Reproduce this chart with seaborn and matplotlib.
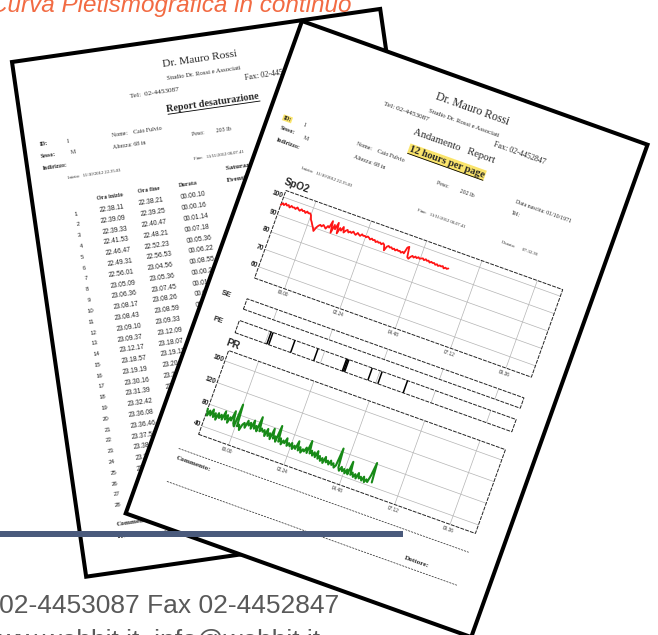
import numpy as np
import pandas as pd
import matplotlib
matplotlib.use("Agg")
import matplotlib.pyplot as plt
from matplotlib import transforms
from matplotlib.patches import Polygon, Rectangle
import seaborn as sns

sns.set_theme(style="white")
plt.rcParams['font.family'] = ['Liberation Sans', 'DejaVu Sans']
SERIF = ['Liberation Serif', 'DejaVu Serif']
SANS = ['Liberation Sans', 'DejaVu Sans']

# --- dati ---
# SpO2 (%) e PR (bpm), un campione ogni 0.062 h dall'inizio registrazione
spo2_values = [
    95.5, 96.8, 96.0, 97.2, 96.3, 96.9, 95.8, 97.0, 96.4, 96.7,
    96.1, 97.3, 96.5, 96.0, 97.1, 96.4, 96.8, 95.9, 97.0, 96.3,
    96.6, 95.8, 93.5, 92.4, 91.0, 89.8, 88.2, 90.5, 91.8, 92.6,
    92.0, 93.1, 92.4, 91.6, 93.4, 92.8, 96.8, 90.4, 95.2, 93.0,
    97.0, 91.2, 94.6, 93.4, 95.8, 92.9, 94.2, 95.0, 93.8, 94.6,
    94.1, 95.2, 94.4, 93.9, 95.3, 94.7, 94.2, 95.4, 94.8, 95.1,
    94.6, 95.3, 94.9, 94.2, 95.0, 94.4, 94.8, 93.9, 94.6, 94.1,
    94.5, 93.8, 94.7, 94.0, 91.2, 93.6, 94.3, 93.7, 94.1, 93.4,
    93.9, 93.2, 94.0, 93.5, 93.8, 93.1, 93.9, 93.3, 96.9, 97.6,
    92.0, 91.4, 92.8, 93.6, 92.9, 93.8, 93.2, 94.0, 93.4, 93.9,
    94.2, 93.5, 94.3, 93.7, 94.1, 93.3, 94.0, 93.6, 93.9, 93.2,
    93.8, 93.1, 93.7, 93.4, 93.9, 92.9, 93.6, 93.2, 93.7,
]
pr_values = [
    72, 60, 70, 62, 74, 61, 69, 58, 71, 63,
    70, 62, 78, 64, 73, 60, 71, 66, 84, 63,
    58, 99, 60, 64, 55, 66, 70, 62, 76, 68,
    74, 64, 80, 66, 72, 63, 90, 65, 71, 66,
    70, 60, 74, 62, 68, 58, 78, 61, 66, 57,
    87, 59, 66, 56, 64, 60, 70, 57, 63, 58,
    65, 55, 62, 57, 72, 56, 63, 54, 61, 58,
    66, 57, 80, 58, 64, 56, 63, 55, 67, 54,
    60, 52, 58, 50, 62, 53, 57, 51, 59, 52,
    56, 49, 54, 86, 52, 47, 55, 48, 53, 46,
    54, 46, 70, 47, 52, 45, 51, 44, 55, 46,
    50, 44, 52, 43, 49, 45, 58, 82, 47,
]
sample_step_h = 0.062
page_start_h = 22.7          # ora di inizio pagina (22:42)
page_span_h = 12.0           # 12 hours per page
pe_events_h = [24.08, 24.16, 25.11, 26.11, 27.35, 27.40, 27.45, 28.46, 28.89, 29.99]
time_ticks_h = [24.0, 26.4, 28.8, 31.2, 33.6]
time_tick_labels = ['00.00', '02.24', '04.48', '07.12', '09.36']
spo2_ticks = [100, 90, 80, 70, 60]
pr_ticks = [160, 120, 80, 40]

# tabella report desaturazione
ora_inizio = ["22.38.11", "22.39.09", "22.39.33", "22.41.53", "22.46.47", "22.49.31", "22.56.01",
              "23.05.09", "23.06.36", "23.08.17", "23.08.43", "23.09.10", "23.09.37", "23.12.17",
              "23.18.57", "23.19.19", "23.30.16", "23.31.39", "23.32.42", "23.36.08", "23.36.46",
              "23.37.51", "23.38.59", "23.39.48", "23.42.24", "23.43.33", "23.45.33", "23.46.22"]
ora_fine = ["22.38.21", "22.39.25", "22.40.47", "22.48.21", "22.52.23", "22.56.53", "23.04.56",
            "23.05.36", "23.07.45", "23.08.26", "23.08.59", "23.09.33", "23.12.09", "23.18.07",
            "23.19.12", "23.20.00", "23.31.39", "23.32.42", "23.36.08", "23.36.46", "23.37.51",
            "23.38.43", "23.39.30", "23.42.02", "23.43.11", "23.45.09", "23.45.52", "23.47.20"]
durata = ["00.00.10", "00.00.16", "00.01.14", "00.07.18", "00.05.36", "00.06.22", "00.08.55",
          "00.00.27", "00.01.09", "00.00.09", "00.00.16", "00.00.23", "00.02.32", "00.05.50",
          "00.00.15", "00.00.41", "00.01.23", "00.01.03", "00.03.26", "00.00.38", "00.01.05",
          "00.00.52", "00.00.31", "00.02.14", "00.00.47", "00.01.36", "00.00.19", "00.00.58"]

spo2_df = pd.DataFrame({'ora': page_start_h + np.arange(len(spo2_values)) * sample_step_h,
                        'spo2': spo2_values})
pr_df = pd.DataFrame({'ora': page_start_h + np.arange(len(pr_values)) * sample_step_h,
                      'pr': pr_values})

# --- figura ---
fig = plt.figure(figsize=(6.58, 6.35), dpi=100)
ax = fig.add_axes([0, 0, 1, 1])
ax.set_xlim(0, 658)
ax.set_ylim(635, 0)
ax.axis('off')


def page_transform(x0, y0, angle):
    return transforms.Affine2D().rotate_deg(angle).translate(x0, y0) + ax.transData


def put(tr, angle, u, v, s, size, ha='left', va='center', family=SERIF, z=3, **kw):
    ax.text(u, v, s, transform=tr, rotation=-angle, rotation_mode='anchor',
            fontsize=size, ha=ha, va=va, family=family, zorder=z, **kw)


def underline(tr, u0, u1, v, z=3):
    ax.plot([u0, u1], [v, v], transform=tr, color='black', lw=0.6, zorder=z)


def chart_transform(page_tr, box, xlim, ylim):
    u0, v0, u1, v1 = box
    sx = (u1 - u0) / (xlim[1] - xlim[0])
    sy = (v1 - v0) / (ylim[1] - ylim[0])
    a = transforms.Affine2D().translate(-xlim[0], -ylim[1]).scale(sx, -sy).translate(u0, v0)
    return a + page_tr, sx, sy


# ---------- pagina dietro: report desaturazione ----------
A_L = -8.2
tr_l = page_transform(12, 62, A_L)
ax.add_patch(Polygon([(0, 0), (372, 0), (372, 520), (0, 520)], closed=True, transform=tr_l,
                     facecolor='white', edgecolor='black', lw=2.9, joinstyle='miter', zorder=1))
put(tr_l, A_L, 186, 24, "Dr. Mauro Rossi", 8.2, ha='center', z=2)
put(tr_l, A_L, 188, 38, "Studio Dr. Rossi e Associati", 4.8, ha='center', z=2)
put(tr_l, A_L, 112, 51, "Tel:  02-4453087", 5.2, z=2)
put(tr_l, A_L, 228, 49, "Fax: 02-4452847", 5.8, z=2)
put(tr_l, A_L, 193, 69, "Report desaturazione", 7.3, ha='center', weight='bold', z=2)
underline(tr_l, 147, 240, 74, z=2)
put(tr_l, A_L, 15, 86, "ID:", 4.2, weight='bold', z=2)
put(tr_l, A_L, 42, 86, "1", 4.2, z=2)
put(tr_l, A_L, 15, 98, "Sesso:", 4.2, weight='bold', z=2)
put(tr_l, A_L, 45, 98, "M", 4.2, z=2)
put(tr_l, A_L, 15, 110, "Indirizzo:", 4.2, weight='bold', z=2)
put(tr_l, A_L, 88, 87, "Nome:    Caio Fulvio", 4.2, z=2)
put(tr_l, A_L, 88, 99, "Altezza: 68 in", 4.2, z=2)
put(tr_l, A_L, 168, 97, "Peso:        203 lb", 4.2, z=2)
put(tr_l, A_L, 39, 123, "Inizio:   11/10/2012 22.35.03", 3.3, z=2)
put(tr_l, A_L, 166, 122, "Fine:   11/11/2012 06.07.41", 3.3, z=2)
put(tr_l, A_L, 196, 136, "Saturazione media", 5.2, weight='bold', z=2)
put(tr_l, A_L, 196, 148, "Eventi", 5.2, weight='bold', z=2)
put(tr_l, A_L, 78, 147, "Ora inizio", 4.4, ha='center', weight='bold', z=2)
put(tr_l, A_L, 117, 146, "Ora fine", 4.4, ha='center', weight='bold', z=2)
put(tr_l, A_L, 157, 146, "Durata", 4.4, ha='center', weight='bold', z=2)
for i, (a, b, c) in enumerate(zip(ora_inizio, ora_fine, durata)):
    v = 159.5 + i * 10.9
    put(tr_l, A_L, 42, v, str(i + 1), 4.3, ha='center', family=SANS, z=2)
    put(tr_l, A_L, 78, v, a, 4.8, ha='center', family=SANS, z=2)
    put(tr_l, A_L, 118, v - 1, b, 4.8, ha='center', family=SANS, z=2)
    put(tr_l, A_L, 160, v - 1, c, 4.8, ha='center', family=SANS, z=2)
put(tr_l, A_L, 37, 473, "Commento:", 5.2, weight='bold', z=2)
ax.plot([37, 340], [486, 486], transform=tr_l, color='black', lw=0.5, ls=(0, (3, 1.5)), zorder=2)

# ---------- pagina davanti: andamento ----------
A_F = 19.7
tr_f = page_transform(302, 21, A_F)
ax.add_patch(Polygon([(0, 0), (367, 0), (367, 523), (0, 523)], closed=True, transform=tr_f,
                     facecolor='white', edgecolor='black', lw=2.9, joinstyle='miter', zorder=3))
put(tr_f, A_F, 190, 26, "Dr. Mauro Rossi", 8.4, ha='center', z=4)
put(tr_f, A_F, 187, 42, "Studio Dr. Rossi e Associati", 4.8, ha='center', z=4)
put(tr_f, A_F, 104, 50, "Tel: 02-4453087", 5.2, z=4)
put(tr_f, A_F, 222, 51, "Fax: 02-4452847", 5.8, z=4)
put(tr_f, A_F, 185, 67, "Andamento   Report", 7.6, ha='center', z=4)
put(tr_f, A_F, 184, 84, "12 hours per page", 7.5, ha='center', weight='bold', z=4,
    bbox=dict(facecolor='#fbe56c', edgecolor='none', pad=0.6))
underline(tr_f, 144, 224, 89, z=5)
put(tr_f, A_F, 15, 97, "ID:", 4.2, weight='bold', z=4,
    bbox=dict(facecolor='#fbe56c', edgecolor='none', pad=0.4))
put(tr_f, A_F, 36, 97, "1", 4.2, z=4)
put(tr_f, A_F, 15, 108, "Sesso:", 4.2, weight='bold', z=4)
put(tr_f, A_F, 40, 109, "M", 4.2, z=4)
put(tr_f, A_F, 16, 120, "Indirizzo:", 4.2, weight='bold', z=4)
put(tr_f, A_F, 93, 97, "Nome:    Caio Fulvio", 4.2, z=4)
put(tr_f, A_F, 94, 110, "Altezza: 68 in", 4.2, z=4)
put(tr_f, A_F, 181, 107, "Peso:        202 lb", 4.2, z=4)
put(tr_f, A_F, 262, 98, "Data nascita: 01/10/1971", 4.2, z=4)
put(tr_f, A_F, 262, 110, "Tel:", 4.2, z=4)
put(tr_f, A_F, 49, 139, "Inizio:   11/10/2012 22.35.03", 3.3, z=4)
put(tr_f, A_F, 172, 139, "Fine:   11/11/2012 06.07.41", 3.3, z=4)
put(tr_f, A_F, 262, 141, "Durata:       07.32.38", 3.3, z=4)

xlim = (page_start_h, page_start_h + page_span_h)
U0, U1 = 42, 336
GRID = '#b4b4b4'
BOX_LS = (0, (4, 1.2))


def draw_box(tr, sx, sy, ylim, yticks, xlabels):
    ax.add_patch(Rectangle((xlim[0], ylim[0]), xlim[1] - xlim[0], ylim[1] - ylim[0], transform=tr,
                           fill=False, ec='#222222', lw=0.7, ls=BOX_LS, zorder=5))
    ax.vlines(time_ticks_h, ylim[0], ylim[1], transform=tr, colors=GRID, lw=0.5, zorder=4)
    if yticks:
        ax.hlines(yticks, xlim[0], xlim[1], transform=tr, colors=GRID, lw=0.5, zorder=4)
        for y in yticks:
            ax.text(xlim[0] - 1.5 / sx, y, str(y), transform=tr, rotation=-A_F,
                    rotation_mode='anchor', ha='right', va='center', fontsize=4.8,
                    weight='bold', color='#222222', zorder=5)
    if xlabels:
        for x, lab in zip(time_ticks_h, time_tick_labels):
            ax.text(x, ylim[0] - 3 / sy, lab, transform=tr, rotation=-A_F,
                    rotation_mode='anchor', ha='center', va='top', fontsize=3.4,
                    color='#333333', zorder=5)


# SpO2
spo2_ylim = (53.5, 103.8)
tr_spo2, sx, sy = chart_transform(tr_f, (U0, 165, U1, 258), xlim, spo2_ylim)
draw_box(tr_spo2, sx, sy, spo2_ylim, spo2_ticks, True)
put(tr_f, A_F, 38, 157, "SpO2", 7.2, weight='bold', family=SANS, z=5)
sns.lineplot(data=spo2_df, x='ora', y='spo2', ax=ax, color='#ff1414', linewidth=1.3,
             estimator=None, transform=tr_spo2, zorder=6)

# SE
tr_se, sx2, sy2 = chart_transform(tr_f, (U0, 280, U1, 291), xlim, (0, 1))
draw_box(tr_se, sx2, sy2, (0, 1), None, False)
put(tr_f, A_F, 21, 283, "SE", 5.6, ha='center', weight='bold', family=SANS, z=5)

# PE
tr_pe, sx3, sy3 = chart_transform(tr_f, (U0, 303, U1, 316), xlim, (0, 1))
draw_box(tr_pe, sx3, sy3, (0, 1), None, False)
ax.vlines(pe_events_h, 0, 1, transform=tr_pe, colors='black', lw=1.1, zorder=6)
put(tr_f, A_F, 22, 310, "PE", 5.6, ha='center', weight='bold', family=SANS, z=5)

# PR
pr_ylim = (24.3, 179.1)
tr_pr, sx4, sy4 = chart_transform(tr_f, (U0, 335, U1, 424), xlim, pr_ylim)
draw_box(tr_pr, sx4, sy4, pr_ylim, pr_ticks, True)
put(tr_f, A_F, 44, 328, "PR", 7.2, ha='center', weight='bold', family=SANS, z=5)
sns.lineplot(data=pr_df, x='ora', y='pr', ax=ax, color='#178a17', linewidth=1.5,
             estimator=None, transform=tr_pr, zorder=6)

# commento / dottore
ax.plot([28, 336], [444, 444], transform=tr_f, color='#222222', lw=0.5, ls=(0, (3, 1.5)), zorder=4)
ax.plot([28, 336], [479, 479], transform=tr_f, color='#222222', lw=0.5, ls=(0, (3, 1.5)), zorder=4)
put(tr_f, A_F, 29, 453, "Commento:", 5.2, weight='bold', z=4)
put(tr_f, A_F, 277, 471, "Dottore:", 5.2, weight='bold', z=4)

# barra e testi esterni
ax.add_patch(Rectangle((0, 531), 403, 6, facecolor='#4a5a7c', edgecolor='none', zorder=8))
ax.text(339, 613, "Tel 02-4453087 Fax 02-4452847", ha='right', va='baseline', fontsize=19,
        color='#595959', zorder=9)
ax.text(320, 647, "www.webbit.it  info@webbit.it", ha='right', va='baseline', fontsize=19,
        color='#595959', zorder=9)
ax.text(351, 12, "Curva Pletismografica in continuo", ha='right', va='baseline', fontsize=17.5,
        style='italic', color='#f26b43', zorder=9)

ax.set_xlim(0, 658)
ax.set_ylim(635, 0)
ax.axis('off')
fig.savefig('out.png', dpi=100, facecolor='white')
